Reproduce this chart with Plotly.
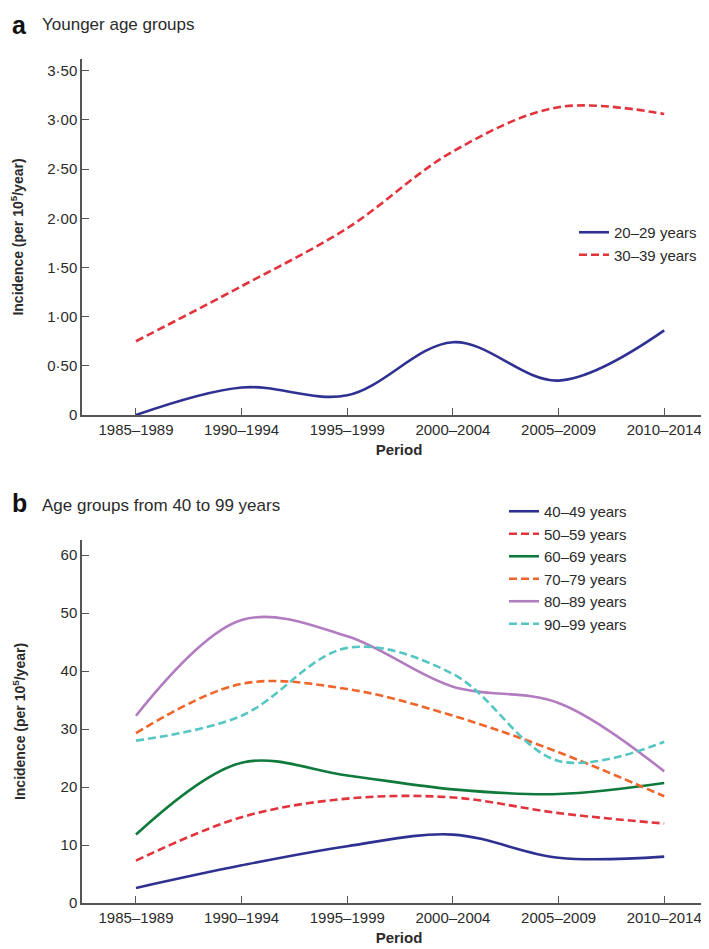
import plotly.graph_objects as go

periods = ["1985–1989", "1990–1994", "1995–1999", "2000–2004", "2005–2009", "2010–2014"]

# Panel a (younger age groups)
young_20_29 = [0.0, 0.28, 0.20, 0.74, 0.35, 0.86]
young_30_39 = [0.75, 1.31, 1.90, 2.68, 3.13, 3.06]

# Panel b (40-99 years)
g40_49 = [2.6, 6.5, 9.8, 11.8, 7.8, 8.0]
g50_59 = [7.3, 14.8, 18.0, 18.2, 15.5, 13.7]
g60_69 = [11.8, 24.2, 22.0, 19.6, 18.8, 20.7]
g70_79 = [29.3, 37.8, 36.9, 32.3, 26.0, 18.4]
g80_89 = [32.3, 48.8, 46.0, 37.3, 34.5, 22.7]
g90_99 = [28.0, 32.3, 44.0, 39.5, 24.5, 27.8]

y_ticks_a = [0, 0.5, 1.0, 1.5, 2.0, 2.5, 3.0, 3.5]
y_ticktext_a = ["0", "0·50", "1·00", "1·50", "2·00", "2·50", "3·00", "3·50"]
y_ticks_b = [0, 10, 20, 30, 40, 50, 60]

FONT = "Liberation Sans, Arial, Helvetica, sans-serif"
TXT = "#2b2b2b"
AX = "#555555"

colors = {
    "blue": "#2e3192", "red": "#e2343c", "green": "#0f7a3c",
    "orange": "#f0652a", "purple": "#b27cc0", "cyan": "#55c6c2",
}
DASH = "8px,4px"
LW = 2.6

fig = go.Figure()
xidx = list(range(len(periods)))

def add(y, name, color, dash, xa, ya, legend):
    fig.add_trace(go.Scatter(
        x=xidx, y=y, name=name, mode="lines",
        line=dict(color=color, width=LW, dash=dash, shape="spline", smoothing=1.0),
        xaxis=xa, yaxis=ya, legend=legend, cliponaxis=False,
    ))

add(young_20_29, "20–29 years", colors["blue"], "solid", "x", "y", "legend")
add(young_30_39, "30–39 years", colors["red"], DASH, "x", "y", "legend")

add(g40_49, "40–49 years", colors["blue"], "solid", "x2", "y2", "legend2")
add(g50_59, "50–59 years", colors["red"], DASH, "x2", "y2", "legend2")
add(g60_69, "60–69 years", colors["green"], "solid", "x2", "y2", "legend2")
add(g70_79, "70–79 years", colors["orange"], DASH, "x2", "y2", "legend2")
add(g80_89, "80–89 years", colors["purple"], "solid", "x2", "y2", "legend2")
add(g90_99, "90–99 years", colors["cyan"], DASH, "x2", "y2", "legend2")

# pixel geometry
W, H = 709, 949
L, R, T, B = 74, 1, 51, 54
ph = H - T - B
pw = W - L - R

def py(pix):
    return (H - B - pix) / ph

def px(pix):
    return (pix - L) / pw

xcommon = dict(
    range=[-0.511, 5.49], tickvals=xidx, ticktext=periods,
    ticks="inside", ticklen=7, tickcolor=AX, tickwidth=1,
    showline=True, linecolor=AX, linewidth=1.5, showgrid=False, zeroline=False,
    tickfont=dict(family=FONT, size=15, color=TXT),
    title=dict(text="<b>Period</b>", font=dict(family=FONT, size=15, color=TXT), standoff=8),
)
ycommon = dict(
    ticks="inside", ticklen=7, tickcolor=AX, tickwidth=1,
    showline=True, linecolor=AX, linewidth=1.5, showgrid=False, zeroline=False,
    tickfont=dict(family=FONT, size=15, color=TXT),
)
ytitle = "<b>Incidence (per 10<sup>5</sup>/year)</b>"

fig.update_layout(
    width=W, height=H,
    margin=dict(l=L, r=R, t=T, b=B),
    paper_bgcolor="white", plot_bgcolor="white",
    font=dict(family=FONT, color=TXT),
    xaxis=dict(domain=[0, 1], anchor="y", **xcommon),
    yaxis=dict(domain=[py(407), 1.0], anchor="x", range=[0, 3.62],
               tickvals=y_ticks_a, ticktext=y_ticktext_a,
               title=dict(text=ytitle, font=dict(family=FONT, size=14, color=TXT), standoff=21),
               **ycommon),
    xaxis2=dict(domain=[0, 1], anchor="y2", **xcommon),
    yaxis2=dict(domain=[0, py(532)], anchor="x2", range=[0, 62.6],
                tickvals=y_ticks_b,
                title=dict(text=ytitle, font=dict(family=FONT, size=14, color=TXT), standoff=32),
                **ycommon),
    legend=dict(x=px(566), y=py(208), xanchor="left", yanchor="top",
                font=dict(family=FONT, size=15, color=TXT), bgcolor="rgba(0,0,0,0)",
                tracegroupgap=0, itemwidth=30),
    legend2=dict(x=px(496), y=py(487), xanchor="left", yanchor="top",
                 font=dict(family=FONT, size=15, color=TXT), bgcolor="rgba(0,0,0,0)",
                 tracegroupgap=0, itemwidth=30),
    annotations=[
        dict(text="<b>a</b>", x=px(2), y=py(17), xref="paper", yref="paper",
             xanchor="left", yanchor="middle", showarrow=False,
             font=dict(family=FONT, size=25, color="#111")),
        dict(text="Younger age groups", x=px(32), y=py(17), xref="paper", yref="paper",
             xanchor="left", yanchor="middle", showarrow=False,
             font=dict(family=FONT, size=17, color=TXT)),
        dict(text="<b>b</b>", x=px(2), y=py(495), xref="paper", yref="paper",
             xanchor="left", yanchor="middle", showarrow=False,
             font=dict(family=FONT, size=25, color="#111")),
        dict(text="Age groups from 40 to 99 years", x=px(32), y=py(497), xref="paper", yref="paper",
             xanchor="left", yanchor="middle", showarrow=False,
             font=dict(family=FONT, size=17, color=TXT)),
    ],
)

fig.write_html("out.html")
